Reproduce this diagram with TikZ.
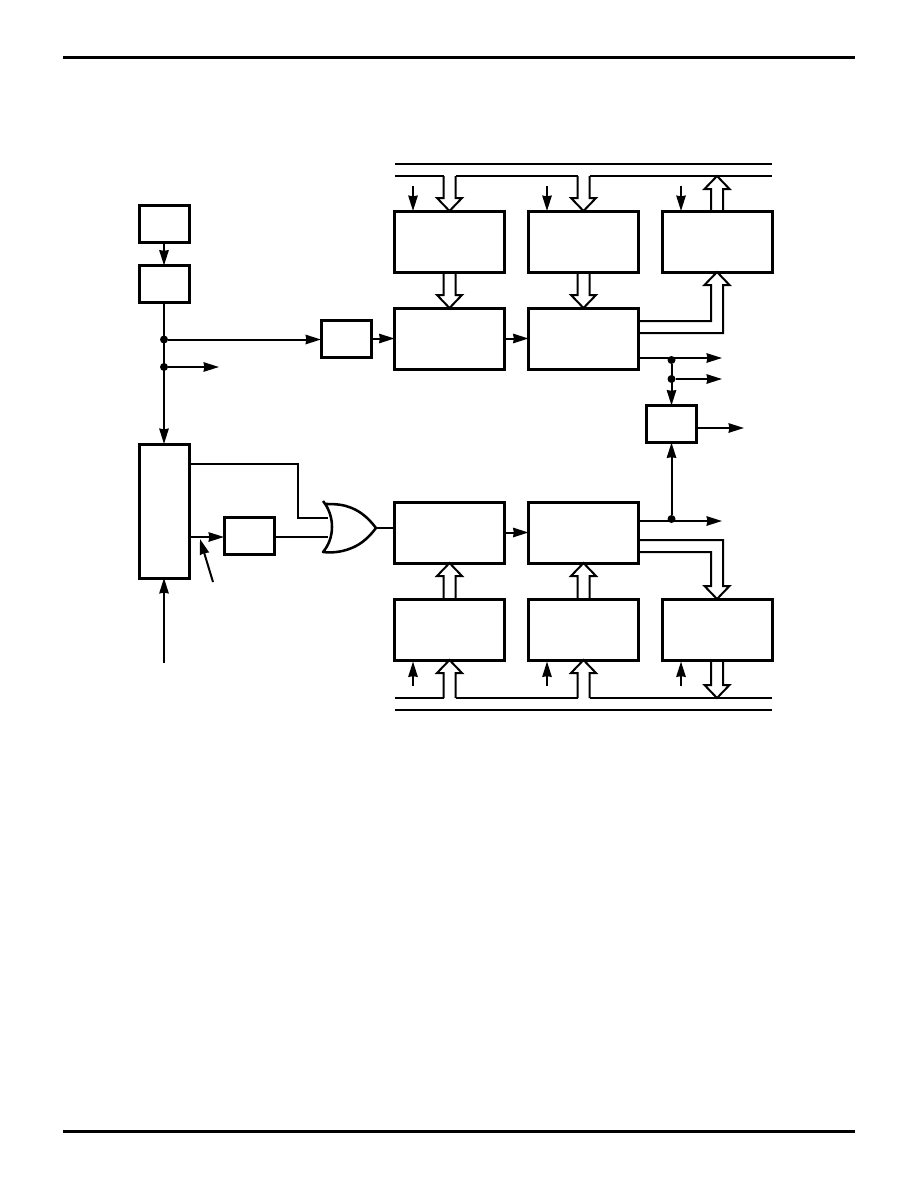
\documentclass[tikz,border=0pt]{standalone}
\usetikzlibrary{arrows.meta,calc}
\tikzset{
  bigbox/.style={draw,line width=2.25pt,minimum width=82.5pt,minimum height=45.75pt,outer sep=0pt,inner sep=0pt},
  smallbox/.style={draw,line width=2.25pt,minimum width=37.5pt,minimum height=27.75pt,outer sep=0pt,inner sep=0pt},
  tallbox/.style={draw,line width=2.25pt,minimum width=37.5pt,minimum height=100.5pt,outer sep=0pt,inner sep=0pt},
  wire/.style={line width=1.5pt},
  busline/.style={line width=1.5pt},
  rule/.style={line width=2.25pt},
  sig/.style={line width=1.5pt,-{Stealth[length=11.5pt,width=7pt,inset=0.5pt]}},
  fat/.style={line width=1.5pt,miter limit=10},
  junction/.style={circle,fill=black,minimum size=6pt,inner sep=0pt,outer sep=0pt},
}
% vertical hollow arrow: from, tip, direction (1 = pointing down, -1 = pointing up)
\newcommand{\fatv}[3]{%
  \draw[fat] ($(#1)+(-6,0)$) -- ($(#2)+(-6,{-13*#3})$) -- ($(#2)+(-12.5,{-13*#3})$) -- (#2)
    -- ($(#2)+(12.5,{-13*#3})$) -- ($(#2)+(6,{-13*#3})$) -- ($(#1)+(6,0)$);}
\begin{document}
\begin{tikzpicture}[x=0.75pt,y=-0.75pt]
\useasboundingbox[fill=white] (0,0) rectangle (918,1188);
% page rules
\coordinate (rtl) at (63,58);  \coordinate (rtr) at (855,58);
\coordinate (rbl) at (63,1131); \coordinate (rbr) at (855,1131);
\draw[rule] (rtl) -- (rtr);
\draw[rule] (rbl) -- (rbr);
% boxes
\node[bigbox] (a1) at (449.5,241.5) {};
\node[bigbox] (a2) at (583.5,241.5) {};
\node[bigbox] (a3) at (717,241.5) {};
\node[bigbox] (b1) at (449.5,338.5) {};
\node[bigbox] (b2) at (583.5,338.5) {};
\node[bigbox] (c1) at (449.5,532.5) {};
\node[bigbox] (c2) at (583.5,532.5) {};
\node[bigbox] (d1) at (449.5,629.5) {};
\node[bigbox] (d2) at (583.5,629.5) {};
\node[bigbox] (d3) at (717,629.5) {};
\node[smallbox] (s1) at (164,223.5) {};
\node[smallbox] (s2) at (164,284) {};
\node[smallbox] (s3) at (346,338.5) {};
\node[smallbox] (s4) at (249,535.5) {};
\node[smallbox] (s5) at (671.5,424) {};
\node[tallbox] (m) at (164,511) {};
% top buses
\coordinate (tb1l) at (395,164); \coordinate (tb1r) at (772,164);
\draw[busline] (tb1l) -- (tb1r);
\coordinate (tb2l) at (395,176); \coordinate (tb2r) at (772,176);
\coordinate (ta1) at (449.5,176); \coordinate (ta2) at (583.5,176); \coordinate (ta3) at (717,176);
\draw[fat] (tb2l) -- ($(ta1)+(-6,0)$);
\draw[fat] ($(ta1)+(6,0)$) -- ($(ta2)+(-6,0)$);
\draw[fat] ($(ta2)+(6,0)$) -- (tb2r);
\fatv{ta1}{a1.north}{1}
\fatv{ta2}{a2.north}{1}
\fatv{a3.north}{ta3}{-1}
\fatv{a1.south}{b1.north}{1}
\fatv{a2.south}{b2.north}{1}
% control inputs, top
\foreach \n/\x in {a1/413,a2/547,a3/681}{
  \coordinate (in\n) at (\x,186);
  \draw[sig] (in\n) -- (in\n |- \n.north);
}
% b2 to a3 hollow bus
\coordinate (u1) at (711,321); \coordinate (u2) at (723,333);
\coordinate (uh) at (717,285);
\draw[fat] (b2.east |- u1) -- (u1) -- (u1 |- uh) -- ($(uh)+(-12.5,0)$) -- (a3.south)
  -- ($(uh)+(12.5,0)$) -- (u2 |- uh) -- (u2) -- (b2.east |- u2);
% horizontal flows
\draw[sig] (s3.east) -- (b1.west);
\draw[sig] (b1.east) -- (b2.west);
\draw[sig] (c1.east) -- (c2.west);
% left chain
\draw[sig] (s1.south) -- (s2.north);
\node[junction] (j1) at (164,339.5) {};
\node[junction] (j2) at (164,367) {};
\draw[sig] (s2.south) -- (m.north);
\coordinate (o1) at (219,367);
\draw[sig] (j1) -- (s3.west |- j1);
\draw[sig] (j2) -- (o1);
\coordinate (minb) at (164,663);
\draw[sig] (minb) -- (m.south);
% right outputs
\coordinate (e1) at (722,358); \coordinate (e2) at (722,379); \coordinate (e3) at (744,428); \coordinate (e4) at (722,521);
\node[junction] (j3) at (671.5,360) {};
\node[junction] (j4) at (671.5,379) {};
\node[junction] (j5) at (671.5,519) {};
\draw[sig] (b2.east |- e1) -- (e1);
\draw[sig] (j4) -- (e2);
\draw[sig] (j3) -- (s5.north);
\draw[sig] (j5) -- (s5.south);
\draw[sig] (s5.east |- e3) -- (e3);
\draw[sig] (c2.east |- e4) -- (e4);
% c2 to d3 hollow bus
\coordinate (v1) at (723,540); \coordinate (v2) at (711,552);
\coordinate (vh) at (717,586);
\draw[fat] (c2.east |- v1) -- (v1) -- (v1 |- vh) -- ($(vh)+(12.5,0)$) -- (d3.north)
  -- ($(vh)+(-12.5,0)$) -- (v2 |- vh) -- (v2) -- (c2.east |- v2);
% bottom hollow arrows and buses
\fatv{d1.north}{c1.south}{-1}
\fatv{d2.north}{c2.south}{-1}
\coordinate (bb1l) at (395,698); \coordinate (bb1r) at (772,698);
\coordinate (ba1) at (449.5,698); \coordinate (ba2) at (583.5,698); \coordinate (ba3) at (717,698);
\coordinate (bb2l) at (395,710); \coordinate (bb2r) at (772,710);
\draw[busline] (bb2l) -- (bb2r);
\draw[fat] (bb1l) -- ($(ba1)+(-6,0)$);
\draw[fat] ($(ba1)+(6,0)$) -- ($(ba2)+(-6,0)$);
\draw[fat] ($(ba2)+(6,0)$) -- (bb1r);
\fatv{ba1}{d1.south}{-1}
\fatv{ba2}{d2.south}{-1}
\fatv{d3.south}{ba3}{1}
\foreach \n/\x in {d1/413,d2/547,d3/681}{
  \coordinate (in\n) at (\x,686);
  \draw[sig] (in\n) -- (\x,661.5);
}
% left lower logic
\coordinate (g1) at (298,464); \coordinate (g2) at (328,518); \coordinate (g3) at (328,537);
\coordinate (pt) at (200,539); \coordinate (pf) at (213,582);
\draw[wire] (m.east |- g1) -- (g1) -- (g1 |- g2) -- (g2);
\draw[sig] (m.east |- g3) -- (s4.west |- g3);
\draw[wire] (s4.east |- g3) -- (g3);
\draw[sig] (pf) -- (pt);
% OR gate
\coordinate (ot) at (376,528);
\draw[line width=1.9pt,line join=round]
  (323,501) .. controls (335,516) and (335,538) .. (323,552)
  .. controls (332,553) and (341,552) .. (349,549)
  .. controls (358,546) and (367,540) .. (ot)
  .. controls (367,516) and (358,510) .. (349,507)
  .. controls (341,504) and (332,504) .. (325,504);
\draw[wire] (ot) -- (c1.west |- ot);
\end{tikzpicture}
\end{document}
